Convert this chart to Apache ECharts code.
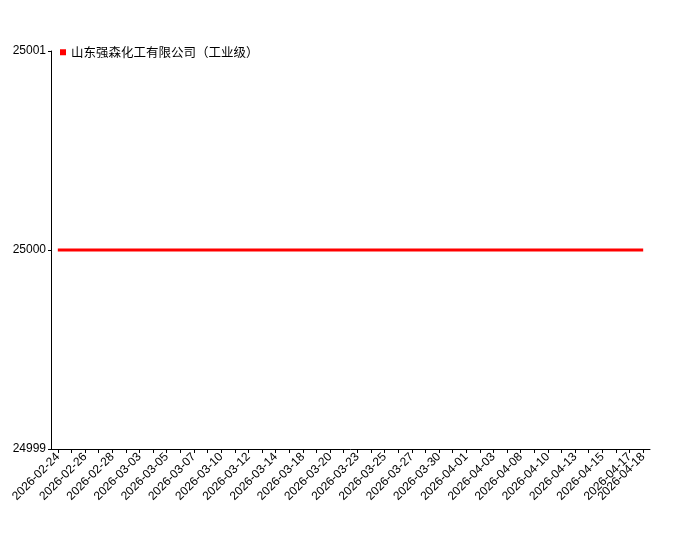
<!DOCTYPE html>
<html>
<head>
<meta charset="utf-8">
<script src="https://cdn.jsdelivr.net/npm/echarts@6/dist/echarts.min.js"></script>
<style>
  html, body { margin: 0; padding: 0; background: #fff; }
  #chart { width: 700px; height: 550px; }
</style>
</head>
<body>
<div id="chart"></div>
<script>
  const seriesName = '山东强森化工有限公司（工业级）';
  const dates = [
    '2026-02-24', '2026-02-25', '2026-02-26', '2026-02-27', '2026-02-28', '2026-03-02',
    '2026-03-03', '2026-03-04', '2026-03-05', '2026-03-06', '2026-03-07', '2026-03-09',
    '2026-03-10', '2026-03-11', '2026-03-12', '2026-03-13', '2026-03-14', '2026-03-16',
    '2026-03-18', '2026-03-19', '2026-03-20', '2026-03-21', '2026-03-23', '2026-03-24',
    '2026-03-25', '2026-03-26', '2026-03-27', '2026-03-28', '2026-03-30', '2026-03-31',
    '2026-04-01', '2026-04-02', '2026-04-03', '2026-04-07', '2026-04-08', '2026-04-09',
    '2026-04-10', '2026-04-11', '2026-04-13', '2026-04-14', '2026-04-15', '2026-04-16',
    '2026-04-17', '2026-04-18'
  ];
  const prices = [
    25000, 25000, 25000, 25000, 25000, 25000, 25000, 25000, 25000, 25000, 25000,
    25000, 25000, 25000, 25000, 25000, 25000, 25000, 25000, 25000, 25000, 25000,
    25000, 25000, 25000, 25000, 25000, 25000, 25000, 25000, 25000, 25000, 25000,
    25000, 25000, 25000, 25000, 25000, 25000, 25000, 25000, 25000, 25000, 25000
  ];
  const yTicks = [24999, 25000, 25001];

  const font = '"Liberation Sans", "Noto Sans CJK SC", sans-serif';
  const lastIdx = dates.length - 1;
  const labelBase = { rotate: 45, color: '#000', fontSize: 12, margin: 6, hideOverlap: false };

  const myChart = echarts.init(document.getElementById('chart'));
  myChart.setOption({
    animation: false,
    textStyle: { fontFamily: font },
    grid: { left: 51, right: 50, top: 51, bottom: 101, containLabel: false },
    legend: {
      left: 55,
      top: 41,
      icon: 'rect',
      itemWidth: 6,
      itemHeight: 6,
      textStyle: { color: '#000', fontSize: 12.5, fontFamily: '"Noto Sans CJK SC", sans-serif' },
      data: [seriesName]
    },
    xAxis: [{
      type: 'category',
      data: dates,
      position: 'bottom',
      boundaryGap: true,
      axisLine: { show: true, lineStyle: { color: '#000', width: 1 } },
      axisTick: {
        show: true,
        alignWithLabel: true,
        interval: 0,
        length: 4,
        lineStyle: { color: '#000', width: 1 }
      },
      axisLabel: Object.assign({}, labelBase, {
        interval: (idx) => idx % 2 === 0
      }),
      splitLine: { show: false }
    }, {
      // only carries the last date label, which the main axis would drop as overlapping
      type: 'category',
      data: dates,
      position: 'bottom',
      offset: 0,
      boundaryGap: true,
      axisLine: { show: false },
      axisTick: { show: false },
      axisLabel: Object.assign({}, labelBase, {
        interval: (idx) => idx === lastIdx
      }),
      splitLine: { show: false }
    }],
    yAxis: {
      type: 'value',
      min: yTicks[0],
      max: yTicks[yTicks.length - 1],
      interval: 1,
      axisLine: { show: true, lineStyle: { color: '#000', width: 1 } },
      axisTick: { show: true, length: 3, lineStyle: { color: '#000', width: 1 } },
      axisLabel: {
        color: '#000',
        fontSize: 12,
        margin: 5,
        formatter: (v) => String(v)
      },
      splitLine: { show: false }
    },
    series: [{
      name: seriesName,
      type: 'line',
      xAxisIndex: 0,
      data: prices,
      showSymbol: false,
      symbol: 'none',
      itemStyle: { color: '#ff0000' },
      lineStyle: { color: '#ff0000', width: 3 }
    }]
  });
</script>
</body>
</html>
